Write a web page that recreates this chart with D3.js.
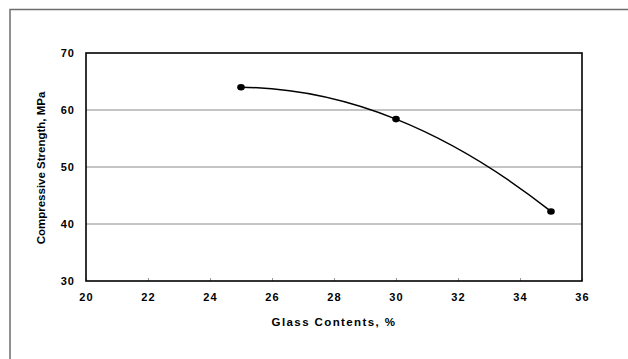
<!DOCTYPE html>
<html>
<head>
<meta charset="utf-8">
<script src="https://cdn.jsdelivr.net/npm/d3@7"></script>
<style>
  html, body { margin: 0; padding: 0; background: #fff; }
  svg { display: block; }
  text { font-family: "Liberation Sans", Arial, sans-serif; font-weight: bold; fill: #000; }
</style>
</head>
<body>
<svg id="chart" width="628" height="359"></svg>
<script>
// Compressive strength vs. glass content
const glassContent = [25, 30, 35];
const strength = [64.0, 58.4, 42.2];
const xTicks = [20, 22, 24, 26, 28, 30, 32, 34, 36];
const yTicks = [30, 40, 50, 60, 70];

const svg = d3.select("#chart");
const W = 628, H = 359;
const plot = { left: 86, right: 582, top: 53, bottom: 281 };

// Smooth curve: cubic Hermite segments whose tangents come from the
// parabola through each point and its neighbours (ends use the first/last triple).
function curveParabolic(context) {
  let xs, ys;
  return {
    areaStart() {}, areaEnd() {},
    lineStart() { xs = []; ys = []; },
    point(px, py) { xs.push(+px); ys.push(+py); },
    lineEnd() {
      const n = xs.length;
      if (!n) return;
      context.moveTo(xs[0], ys[0]);
      if (n === 1) return;
      if (n === 2) { context.lineTo(xs[1], ys[1]); return; }
      const h = [], s = [];
      for (let i = 0; i < n - 1; i++) {
        h.push(xs[i + 1] - xs[i]);
        s.push((ys[i + 1] - ys[i]) / h[i]);
      }
      const m = new Array(n);
      for (let i = 1; i < n - 1; i++) {
        m[i] = (s[i - 1] * h[i] + s[i] * h[i - 1]) / (h[i - 1] + h[i]);
      }
      m[0] = s[0] - h[0] * (s[1] - s[0]) / (h[0] + h[1]);
      m[n - 1] = s[n - 2] + h[n - 2] * (s[n - 2] - s[n - 3]) / (h[n - 3] + h[n - 2]);
      for (let i = 0; i < n - 1; i++) {
        const dx = h[i] / 3;
        context.bezierCurveTo(
          xs[i] + dx, ys[i] + m[i] * dx,
          xs[i + 1] - dx, ys[i + 1] - m[i + 1] * dx,
          xs[i + 1], ys[i + 1]);
      }
    }
  };
}

// outer frame
svg.append("rect")
  .attr("x", 10).attr("y", 9.5)
  .attr("width", W + 20).attr("height", H + 20)
  .attr("fill", "none").attr("stroke", "#6e6e6e").attr("stroke-width", 1.5);

const x = d3.scaleLinear().domain([20, 36]).range([plot.left, plot.right]);
const y = d3.scaleLinear().domain([30, 70]).range([plot.bottom, plot.top]);

// horizontal gridlines
svg.append("g")
  .selectAll("line")
  .data(yTicks.filter(v => v > 30 && v < 70))
  .join("line")
  .attr("x1", plot.left).attr("x2", plot.right)
  .attr("y1", d => y(d)).attr("y2", d => y(d))
  .attr("stroke", "#8a8a8a").attr("stroke-width", 1);

// x axis: small inward ticks, spaced bold labels
const xAxis = svg.append("g")
  .attr("transform", `translate(0,${plot.bottom})`)
  .call(d3.axisBottom(x).tickValues(xTicks).tickSizeInner(-3).tickSizeOuter(0).tickPadding(10));
xAxis.select(".domain").remove();
xAxis.selectAll(".tick line").attr("stroke", "#999");
xAxis.selectAll(".tick text")
  .attr("font-size", 11).attr("letter-spacing", "1.2px")
  .attr("font-family", "Liberation Sans, Arial, sans-serif").attr("font-weight", "bold")
  .attr("dy", "0.9em");

// y axis labels
const yAxis = svg.append("g")
  .attr("transform", `translate(${plot.left},0)`)
  .call(d3.axisLeft(y).tickValues(yTicks).tickSize(0).tickPadding(11));
yAxis.select(".domain").remove();
yAxis.selectAll(".tick text")
  .attr("font-size", 11).attr("letter-spacing", "1px")
  .attr("font-family", "Liberation Sans, Arial, sans-serif").attr("font-weight", "bold");

// plot frame
svg.append("rect")
  .attr("x", plot.left).attr("y", plot.top)
  .attr("width", plot.right - plot.left).attr("height", plot.bottom - plot.top)
  .attr("fill", "none").attr("stroke", "#000").attr("stroke-width", 1.6);

// smoothed series line
const pts = glassContent.map((g, i) => [g, strength[i]]);
svg.append("path")
  .datum(pts)
  .attr("fill", "none").attr("stroke", "#000").attr("stroke-width", 1.5)
  .attr("d", d3.line().x(d => x(d[0])).y(d => y(d[1])).curve(curveParabolic));

// markers
svg.append("g")
  .selectAll("ellipse")
  .data(pts)
  .join("ellipse")
  .attr("cx", d => x(d[0])).attr("cy", d => y(d[1]))
  .attr("rx", 3.8).attr("ry", 3.3)
  .attr("fill", "#000");

// axis titles
svg.append("text")
  .attr("x", 334).attr("y", 326)
  .attr("text-anchor", "middle")
  .attr("font-size", 11.5).attr("letter-spacing", "1.4px")
  .text("Glass Contents, %");

svg.append("text")
  .attr("transform", "translate(45,168) rotate(-90)")
  .attr("text-anchor", "middle")
  .attr("font-size", 11.5)
  .text("Compressive Strength, MPa");
</script>
</body>
</html>
